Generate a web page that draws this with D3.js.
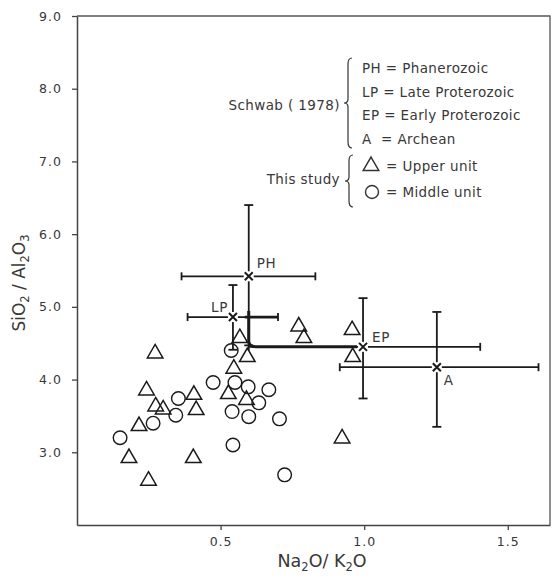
<!DOCTYPE html>
<html>
<head>
<meta charset="utf-8">
<script src="https://cdn.jsdelivr.net/npm/d3@7"></script>
<style>
  body { margin: 0; background: #fff; }
  text { font-family: "DejaVu Sans", sans-serif; fill: #383838; }
</style>
</head>
<body>
<script>
// This study: upper unit (triangles) and middle unit (circles)
var upperX = [0.272, 0.242, 0.274, 0.300, 0.407, 0.415, 0.216, 0.181, 0.405, 0.249,
              0.567, 0.593, 0.546, 0.527, 0.590, 0.772, 0.790, 0.958, 0.960, 0.923];
var upperY = [4.36, 3.85, 3.63, 3.59, 3.79, 3.58, 3.36, 2.92, 2.92, 2.61,
              4.57, 4.31, 4.15, 3.80, 3.72, 4.73, 4.57, 4.68, 4.31, 3.19];
var middleX = [0.150, 0.265, 0.344, 0.353, 0.474, 0.537, 0.550, 0.596, 0.668, 0.633,
               0.540, 0.598, 0.705, 0.543, 0.723];
var middleY = [3.20, 3.40, 3.51, 3.74, 3.96, 4.40, 3.96, 3.90, 3.86, 3.68,
               3.56, 3.49, 3.46, 3.10, 2.69];

// Schwab (1978) means with ranges
var ageLabels = ["PH", "LP", "EP", "A"];
var ageX   = [0.598, 0.543, 0.996, 1.253];
var ageY   = [5.42, 4.86, 4.45, 4.17];
var ageXLo = [0.364, 0.385, 0.598, 0.915];
var ageXHi = [0.830, 0.700, 1.404, 1.607];
var ageYLo = [4.47, 4.41, 3.74, 3.35];
var ageYHi = [6.40, 5.30, 5.12, 4.93];

var xTicks = [0.5, 1.0, 1.5];
var yTicks = [3, 4, 5, 6, 7, 8, 9];

var width = 553, height = 581;
var svg = d3.select("body").append("svg")
    .attr("width", width)
    .attr("height", height);

var x = d3.scaleLinear().domain([0, 1.647]).range([77, 550]);
var y = d3.scaleLinear().domain([2, 9]).range([525, 16]);

// frame (top + right)
svg.append("path")
   .attr("d", "M77,16H550V525")
   .attr("fill", "none")
   .attr("stroke", "#555")
   .attr("stroke-width", 1.3);

var xAxis = svg.append("g")
   .attr("transform", "translate(0,525)")
   .call(d3.axisBottom(x).tickValues(xTicks).tickFormat(d3.format(".1f"))
         .tickSize(5).tickSizeOuter(0).tickPadding(7));
var yAxis = svg.append("g")
   .attr("transform", "translate(77,0)")
   .call(d3.axisLeft(y).tickValues(yTicks).tickFormat(d3.format(".1f"))
         .tickSize(5).tickSizeOuter(0).tickPadding(10));

[xAxis, yAxis].forEach(function(g){
  g.select(".domain").attr("stroke", "#444").attr("stroke-width", 1.5);
  g.selectAll(".tick line").attr("stroke", "#444").attr("stroke-width", 1.3);
  g.selectAll(".tick text")
   .attr("font-family", "DejaVu Sans, sans-serif")
   .attr("font-size", 12.5)
   .attr("letter-spacing", 1)
   .attr("fill", "#444");
});

// axis titles
var xt = svg.append("text")
   .attr("x", 322).attr("y", 567)
   .attr("text-anchor", "middle")
   .attr("font-size", 17.5);
xt.append("tspan").text("Na");
xt.append("tspan").text("2").attr("font-size", 11.5).attr("dy", 4);
xt.append("tspan").text("O/ K").attr("dy", -4);
xt.append("tspan").text("2").attr("font-size", 11.5).attr("dy", 4);
xt.append("tspan").text("O").attr("dy", -4);

var yt = svg.append("text")
   .attr("transform", "translate(25,283) rotate(-90)")
   .attr("text-anchor", "middle")
   .attr("font-size", 17);
yt.append("tspan").text("SiO");
yt.append("tspan").text("2").attr("font-size", 11.5).attr("dy", 4);
yt.append("tspan").text(" / Al").attr("dy", -4);
yt.append("tspan").text("2").attr("font-size", 11.5).attr("dy", 4);
yt.append("tspan").text("O").attr("dy", -4);
yt.append("tspan").text("3").attr("font-size", 11.5).attr("dy", 4);

// Schwab error crosses
var ink = "#1a1a1a";
var bars = svg.append("g").attr("stroke", ink).attr("stroke-width", 1.8).attr("fill", "none");
ageLabels.forEach(function(lab, i){
  var cx = x(ageX[i]), cy = y(ageY[i]);
  var g = bars.append("g");
  g.append("line").attr("x1", x(ageXLo[i])).attr("x2", x(ageXHi[i])).attr("y1", cy).attr("y2", cy);
  g.append("line").attr("x1", cx).attr("x2", cx).attr("y1", y(ageYLo[i])).attr("y2", y(ageYHi[i]));
  // caps
  g.append("line").attr("x1", x(ageXLo[i])).attr("x2", x(ageXLo[i])).attr("y1", cy - 4).attr("y2", cy + 4);
  g.append("line").attr("x1", x(ageXHi[i])).attr("x2", x(ageXHi[i])).attr("y1", cy - 4).attr("y2", cy + 4);
  g.append("line").attr("x1", cx - 4.5).attr("x2", cx + 4.5).attr("y1", y(ageYLo[i])).attr("y2", y(ageYLo[i]));
  g.append("line").attr("x1", cx - 4.5).attr("x2", cx + 4.5).attr("y1", y(ageYHi[i])).attr("y2", y(ageYHi[i]));
  // white gap + x marker
  g.append("rect").attr("x", cx - 5).attr("y", cy - 5).attr("width", 10).attr("height", 10)
   .attr("fill", "#fff").attr("stroke", "none");
  g.append("path").attr("d", "M" + (cx-4) + "," + (cy-4) + "L" + (cx+4) + "," + (cy+4) +
                             "M" + (cx-4) + "," + (cy+4) + "L" + (cx+4) + "," + (cy-4))
   .attr("stroke-width", 2);
});

// the heavier joined strokes around PH / LP / EP
var ph = 0, lp = 1, ep = 2;
bars.append("path")
   .attr("d", "M" + x(ageX[ph]) + "," + (y(ageY[lp]) - 6) +
              "V" + (y(ageY[ep]) - 6) +
              "Q" + x(ageX[ph]) + "," + y(ageY[ep]) + " " + (x(ageX[ph]) + 7) + "," + y(ageY[ep]) +
              "H" + (x(ageX[ep]) - 6))
   .attr("stroke-width", 3);
bars.append("path")
   .attr("d", "M" + (x(ageX[ph]) - 4) + "," + y(ageY[lp]) + "H" + x(ageXHi[lp]))
   .attr("stroke-width", 2.8);

var labOff = [[8, -8, "start"], [-5, -5, "end"], [9, -5, "start"], [7, 18, "start"]];
ageLabels.forEach(function(lab, i){
  svg.append("text")
     .attr("x", x(ageX[i]) + labOff[i][0])
     .attr("y", y(ageY[i]) + labOff[i][1])
     .attr("text-anchor", labOff[i][2])
     .attr("font-size", 13.5)
     .attr("letter-spacing", 0.6)
     .text(lab);
});

// data points
var tri = d3.symbol().type(d3.symbolTriangle).size(105);
svg.append("g").selectAll("path")
   .data(upperX.map(function(v, i){ return [v, upperY[i]]; }))
   .enter().append("path")
   .attr("d", tri)
   .attr("transform", function(d){ return "translate(" + x(d[0]) + "," + y(d[1]) + ")"; })
   .attr("fill", "none").attr("stroke", ink).attr("stroke-width", 1.5);

svg.append("g").selectAll("circle")
   .data(middleX.map(function(v, i){ return [v, middleY[i]]; }))
   .enter().append("circle")
   .attr("cx", function(d){ return x(d[0]); })
   .attr("cy", function(d){ return y(d[1]); })
   .attr("r", 6.8)
   .attr("fill", "none").attr("stroke", ink).attr("stroke-width", 1.4);

// legend
function brace(bx, y0, y1) {
  var ym = (y0 + y1) / 2;
  return "M" + (bx+4) + "," + y0 + "Q" + bx + "," + y0 + " " + bx + "," + (y0+6) +
         "V" + (ym-4) + "Q" + bx + "," + ym + " " + (bx-4) + "," + ym +
         "Q" + bx + "," + ym + " " + bx + "," + (ym+4) +
         "V" + (y1-6) + "Q" + bx + "," + y1 + " " + (bx+4) + "," + y1;
}
var leg = svg.append("g").attr("font-size", 13.5).attr("letter-spacing", 0.4);
var schwabNames = ["PH = Phanerozoic", "LP = Late Proterozoic", "EP = Early Proterozoic", "A  = Archean"];
leg.append("text").attr("x", 340).attr("y", 110).attr("text-anchor", "end").text("Schwab ( 1978)");
leg.append("path").attr("d", brace(348, 58, 148)).attr("fill", "none").attr("stroke", "#333").attr("stroke-width", 1.2);
schwabNames.forEach(function(s, i){
  leg.append("text").attr("x", 362).attr("y", 73 + i * 23.5).attr("xml:space", "preserve").text(s);
});
leg.append("text").attr("x", 340).attr("y", 184).attr("text-anchor", "end").text("This study");
leg.append("path").attr("d", brace(349, 155, 207)).attr("fill", "none").attr("stroke", "#333").attr("stroke-width", 1.2);
leg.append("path").attr("d", tri).attr("transform", "translate(371,166)")
   .attr("fill", "none").attr("stroke", "#333").attr("stroke-width", 1.5);
leg.append("circle").attr("cx", 372).attr("cy", 192).attr("r", 6.5)
   .attr("fill", "none").attr("stroke", "#333").attr("stroke-width", 1.4);
leg.append("text").attr("x", 386).attr("y", 171).text("= Upper unit");
leg.append("text").attr("x", 386).attr("y", 197).text("= Middle unit");
</script>
</body>
</html>
